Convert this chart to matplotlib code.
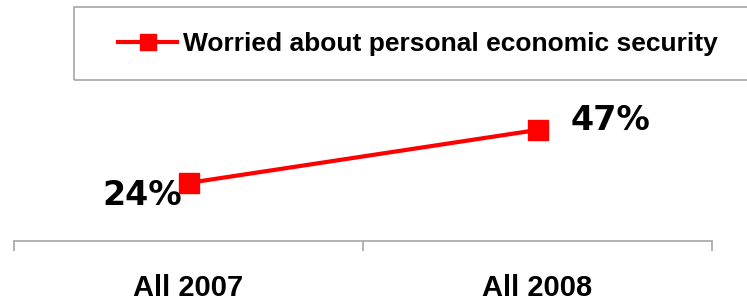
import matplotlib
matplotlib.use("Agg")
import matplotlib.pyplot as plt
from matplotlib.patches import Rectangle
from matplotlib.lines import Line2D
from matplotlib.transforms import blended_transform_factory

# data
categories = ["All 2007", "All 2008"]
worried = [24, 47]
series_name = "Worried about personal economic security"

fig = plt.figure(figsize=(7.47, 3.03), dpi=100)
W, H = 747, 303

# axes: x from 14 to 712 px, y baseline at 241 px
ax = fig.add_axes([14 / W, (H - 241) / H, (712 - 14) / W, (241 - 100) / H])
ax.set_xlim(-0.5, 1.5)
ax.set_ylim(-1.2, 60)

x = range(len(categories))
ax.plot(x, worried, color="#ff0000", lw=3, marker="s", ms=14.4,
        markerfacecolor="#ff0000", markeredgecolor="#ff0000", clip_on=False)

# data labels
ax.annotate(f"{worried[0]}%", (0, worried[0]), xytext=(-5, -16),
            textcoords="offset points", ha="right", va="baseline",
            fontsize=24, fontweight="bold", family="DejaVu Sans")
ax.annotate(f"{worried[1]}%", (1, worried[1]), xytext=(24, 0),
            textcoords="offset points", ha="left", va="baseline",
            fontsize=24, fontweight="bold", family="DejaVu Sans")

# axis styling
for s in ["top", "right", "left"]:
    ax.spines[s].set_visible(False)
ax.spines["bottom"].set_color("#a6a6a6")
ax.spines["bottom"].set_linewidth(1.2)
ax.set_yticks([])
ax.set_xticks([-0.5, 0.5, 1.5])
ax.set_xticklabels([])
ax.tick_params(axis="x", direction="out", length=7.2, width=1.2, color="#a6a6a6")

# category labels
trans = blended_transform_factory(ax.transData, fig.transFigure)
for i, c in enumerate(categories):
    ax.text(i, (H - 296) / H, c, transform=trans, ha="center", va="baseline",
            fontsize=21, fontweight="bold", family="Liberation Sans")

# legend box
fig.patches.append(Rectangle((74 / W, (H - 80) / H), (760 - 74) / W, 73 / H,
                             transform=fig.transFigure, fill=False,
                             edgecolor="#a6a6a6", lw=1.2))
handle = Line2D([], [], color="#ff0000", lw=3, marker="s", ms=11.5,
                markerfacecolor="#ff0000", markeredgecolor="#ff0000")
fig.legend([handle], [series_name], loc="center",
           bbox_to_anchor=(418 / W, (H - 44) / H), frameon=False,
           handlelength=2.23, handletextpad=0.23,
           prop={"family": "Liberation Sans", "weight": "bold", "size": 19})

fig.savefig("out.png", dpi=100)
